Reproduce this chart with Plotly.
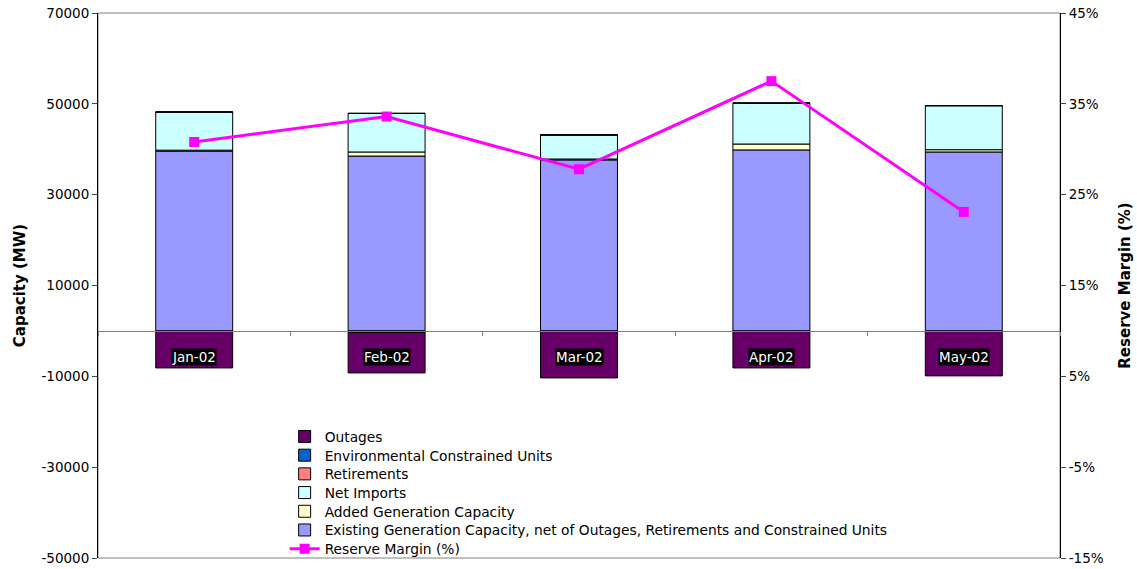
import plotly.graph_objects as go

months = ["Jan-02", "Feb-02", "Mar-02", "Apr-02", "May-02"]
existing = [39600, 38500, 37650, 39850, 39400]
added = [200, 900, 200, 1300, 500]
net_imports = [8400, 8500, 5300, 9000, 9700]
retirements = [0, 0, 0, 0, 0]
env_constrained = [0, -350, 0, 0, 0]
outages = [-8150, -8900, -10350, -8150, -9900]
reserve_margin = [30.8, 33.6, 27.8, 37.5, 23.1]

cap_ticks = [-50000, -30000, -10000, 10000, 30000, 50000, 70000]
cap_tick_text = ["-50000", "-30000", "-10000", "10000", "30000", "50000", "70000"]
rm_ticks = [-15, -5, 5, 15, 25, 35, 45]
rm_tick_text = ["-15%", "-5%", "5%", "15%", "25%", "35%", "45%"]

FONT = "DejaVu Sans, sans-serif"
W, H = 1137, 569
M = dict(l=98, r=77, t=13, b=11)
plot_h = H - M["t"] - M["b"]
line = dict(color="black", width=1)

# one legend per entry so the row spacing can match the reference
LEG_X = 0.194
LEG_FIRST_PX = 421
LEG_STEP_PX = 18.7


def legend_name(i):
    return "legend" if i == 0 else f"legend{i + 1}"


def legend_y(i):
    px = LEG_FIRST_PX + i * LEG_STEP_PX
    return (H - M["b"] - px) / plot_h


fig = go.Figure()
bars = [
    ("Existing Generation Capacity, net of Outages, Retirements and Constrained Units", existing, "#9999FF", 5),
    ("Added Generation Capacity", added, "#FFFFCC", 4),
    ("Net Imports", net_imports, "#CCFFFF", 3),
    ("Retirements", retirements, "#FF8080", 2),
    ("Environmental Constrained Units", env_constrained, "#0066CC", 1),
    ("Outages", outages, "#660066", 0),
]
for name, vals, color, slot in bars:
    fig.add_trace(go.Bar(x=months, y=vals, name=name, marker=dict(color=color, line=line),
                         width=0.4, legend=legend_name(slot), showlegend=True))

fig.add_trace(go.Scatter(x=months, y=reserve_margin, name="Reserve Margin (%)", yaxis="y2",
                         mode="lines+markers", line=dict(color="#FF00FF", width=3),
                         marker=dict(symbol="square", size=10, color="#FF00FF"),
                         legend=legend_name(6), showlegend=True))

for m in months:
    fig.add_annotation(x=m, y=-5700, text=m, showarrow=False, bgcolor="black",
                       font=dict(color="white", size=13.5, family=FONT), borderpad=0)

legends = {}
for i in range(7):
    legends[legend_name(i)] = dict(x=LEG_X, y=legend_y(i), xanchor="left", yanchor="top",
                                   bgcolor="rgba(0,0,0,0)", font=dict(size=13.8),
                                   tracegroupgap=0)

fig.update_layout(
    width=W, height=H,
    showlegend=True,
    margin=dict(**M, autoexpand=False),
    barmode="relative",
    paper_bgcolor="white", plot_bgcolor="white",
    font=dict(family=FONT, size=13.5, color="black"),
    xaxis=dict(type="category", anchor="free", position=50000 / 120000, showline=True,
               linecolor="#808080", linewidth=1, ticks="outside", tickson="boundaries",
               ticklen=4, tickcolor="#808080", showticklabels=False, showgrid=False, zeroline=False),
    yaxis=dict(range=[-50000, 70000], tickvals=cap_ticks, ticktext=cap_tick_text, showline=True,
               linecolor="black", ticks="outside", ticklen=5, showgrid=False, zeroline=False,
               automargin=False,
               title=dict(text="<b>Capacity (MW)</b>", font=dict(size=15), standoff=12)),
    yaxis2=dict(range=[-15, 45], tickvals=rm_ticks, ticktext=rm_tick_text, overlaying="y",
                side="right", showline=True, linecolor="black", ticks="outside", ticklen=5,
                showgrid=False, zeroline=False, automargin=False,
                title=dict(text="<b>Reserve Margin (%)</b>", font=dict(size=15), standoff=16)),
    shapes=[dict(type="rect", xref="paper", yref="paper", x0=0, x1=1, y0=0, y1=1,
                 line=dict(color="#808080", width=1), layer="below")],
    **legends,
)

fig.write_html("out.html")
